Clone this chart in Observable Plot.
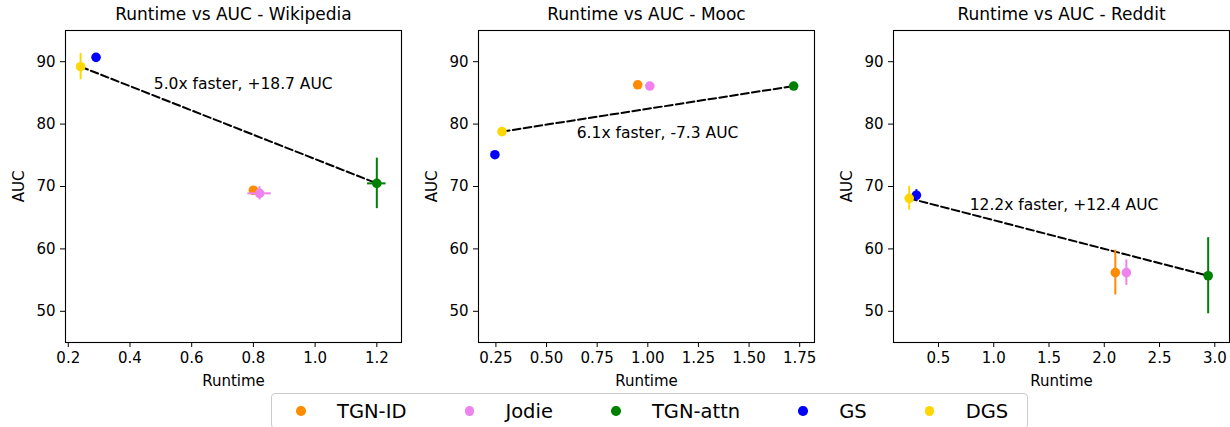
<!DOCTYPE html>
<html>
<head>
<meta charset="utf-8">
<script src="https://cdn.jsdelivr.net/npm/d3@7"></script>
<script src="https://cdn.jsdelivr.net/npm/@observablehq/plot@0.6"></script>
<style>
  html, body { margin: 0; padding: 0; background: white; }
  #fig { position: relative; width: 1230px; height: 427px; overflow: hidden; background: white; font-family: "DejaVu Sans", sans-serif; }
  .panel { position: absolute; top: 0; }
  #legend { position: absolute; left: 271px; top: 393px; width: 746px; height: 34px; border: 1px solid #cccccc; border-radius: 4px; background: rgba(255,255,255,0.8); display: flex; align-items: center; padding-left: 9px; font-size: 19.5px; color: #000; }
  .item { display: flex; align-items: center; margin-right: 43px; }
  .handle { width: 40px; display: flex; justify-content: center; }
  .handle span { width: 9.5px; height: 9.5px; border-radius: 50%; display: block; }
  .lbl { margin-left: 16px; white-space: nowrap; }
</style>
</head>
<body>
<div id="fig"></div>
<script>
// ---- data ----
const methods = ["TGN-ID", "Jodie", "TGN-attn", "GS", "DGS"];
const colors = ["darkorange", "violet", "green", "blue", "gold"];
const titles = ["Runtime vs AUC - Wikipedia", "Runtime vs AUC - Mooc", "Runtime vs AUC - Reddit"];

const wikiRuntime    = [0.80, 0.82, 1.20, 0.29, 0.24];
const wikiAUC        = [69.4, 68.9, 70.5, 90.7, 89.2];
const wikiRuntimeErr = [0, 0.038, 0.03, 0, 0];
const wikiAUCErr     = [0, 1.05, 4.05, 0, 2.1];

const moocRuntime    = [0.95, 1.01, 1.72, 0.245, 0.28];
const moocAUC        = [86.3, 86.1, 86.1, 75.1, 78.8];
const moocRuntimeErr = [0, 0, 0, 0, 0];
const moocAUCErr     = [0, 0, 0, 0, 0];

const redditRuntime    = [2.10, 2.20, 2.94, 0.30, 0.235];
const redditAUC        = [56.2, 56.2, 55.7, 68.6, 68.1];
const redditRuntimeErr = [0, 0, 0, 0, 0];
const redditAUCErr     = [3.6, 2.05, 6.1, 0.9, 1.9];

const annotations = ["5.0x faster, +18.7 AUC", "6.1x faster, -7.3 AUC", "12.2x faster, +12.4 AUC"];
const annotationRuntime = [0.767, 1.048, 1.636];
const annotationAUC = [86.35, 78.6, 67.1];

const wikiTicks = [0.2, 0.4, 0.6, 0.8, 1.0, 1.2];
const moocTicks = [0.25, 0.5, 0.75, 1.0, 1.25, 1.5, 1.75];
const redditTicks = [0.5, 1.0, 1.5, 2.0, 2.5, 3.0];
const aucTicks = [50, 60, 70, 80, 90];

// ---- layout ----
const panels = [
  {rt: wikiRuntime, auc: wikiAUC, rtErr: wikiRuntimeErr, aucErr: wikiAUCErr, ticks: wikiTicks, fmt: ".1f",
   domain: [0.191, 1.28], left: 0, ml: 65, mr: 9},
  {rt: moocRuntime, auc: moocAUC, rtErr: moocRuntimeErr, aucErr: moocAUCErr, ticks: moocTicks, fmt: ".2f",
   domain: [0.164, 1.823], left: 410, ml: 68, mr: 6},
  {rt: redditRuntime, auc: redditAUC, rtErr: redditRuntimeErr, aucErr: redditAUCErr, ticks: redditTicks, fmt: ".1f",
   domain: [0.093, 3.133], left: 820, ml: 73, mr: 1}
];

const fig = document.getElementById("fig");

panels.forEach((p, pi) => {
  const rows = methods.map((m, i) => ({
    method: m, color: colors[i], x: p.rt[i], y: p.auc[i], xe: p.rtErr[i], ye: p.aucErr[i]
  }));
  const dgs = rows[methods.indexOf("DGS")];
  const attn = rows[methods.indexOf("TGN-attn")];
  const perMethod = rows.flatMap(r => [
    Plot.ruleY(r.xe > 0 ? [r] : [], {y: "y", x1: d => d.x - d.xe, x2: d => d.x + d.xe, stroke: r.color, strokeWidth: 2}),
    Plot.ruleX(r.ye > 0 ? [r] : [], {x: "x", y1: d => d.y - d.ye, y2: d => d.y + d.ye, stroke: r.color, strokeWidth: 2}),
    Plot.dot([r], {x: "x", y: "y", r: 4.8, fill: r.color, stroke: null})
  ]);
  const chart = Plot.plot({
    width: 410, height: 395,
    marginLeft: p.ml, marginRight: p.mr, marginTop: 30, marginBottom: 53,
    style: {fontFamily: "DejaVu Sans, sans-serif", fontSize: "15px", color: "#000", background: "transparent", overflow: "visible"},
    x: {domain: p.domain, ticks: p.ticks, tickFormat: d3.format(p.fmt), label: null, tickSize: 5, tickPadding: 5},
    y: {domain: [45, 95], ticks: aucTicks, label: null, tickSize: 5, tickPadding: 5},
    marks: [
      Plot.line([dgs, attn], {x: "x", y: "y", stroke: "black", strokeWidth: 2, strokeDasharray: "7.7,3.3"}),
      ...perMethod,
      Plot.text([annotations[pi]], {x: () => annotationRuntime[pi], y: () => annotationAUC[pi], text: d => d, fontSize: 15.5, fill: "#000"}),
      Plot.frame({stroke: "#000", strokeWidth: 1.1}),
      Plot.text([titles[pi]], {frameAnchor: "top", dy: -15.5, lineAnchor: "middle", textAnchor: "middle", text: d => d, fontSize: 17, fill: "#000"}),
      Plot.text(["Runtime"], {frameAnchor: "bottom", dy: 38.5, lineAnchor: "middle", textAnchor: "middle", text: d => d, fontSize: 15, fill: "#000"}),
      Plot.text(["AUC"], {frameAnchor: "left", dx: -46, rotate: -90, lineAnchor: "middle", textAnchor: "middle", text: d => d, fontSize: 15, fill: "#000"})
    ]
  });
  const div = document.createElement("div");
  div.className = "panel";
  div.style.left = p.left + "px";
  div.appendChild(chart);
  fig.appendChild(div);
});

// ---- legend ----
const legend = document.createElement("div");
legend.id = "legend";
methods.forEach((m, i) => {
  const item = document.createElement("div");
  item.className = "item";
  item.innerHTML = `<div class="handle"><span style="background:${colors[i]}"></span></div><div class="lbl">${m}</div>`;
  legend.appendChild(item);
});
fig.appendChild(legend);
</script>
</body>
</html>
